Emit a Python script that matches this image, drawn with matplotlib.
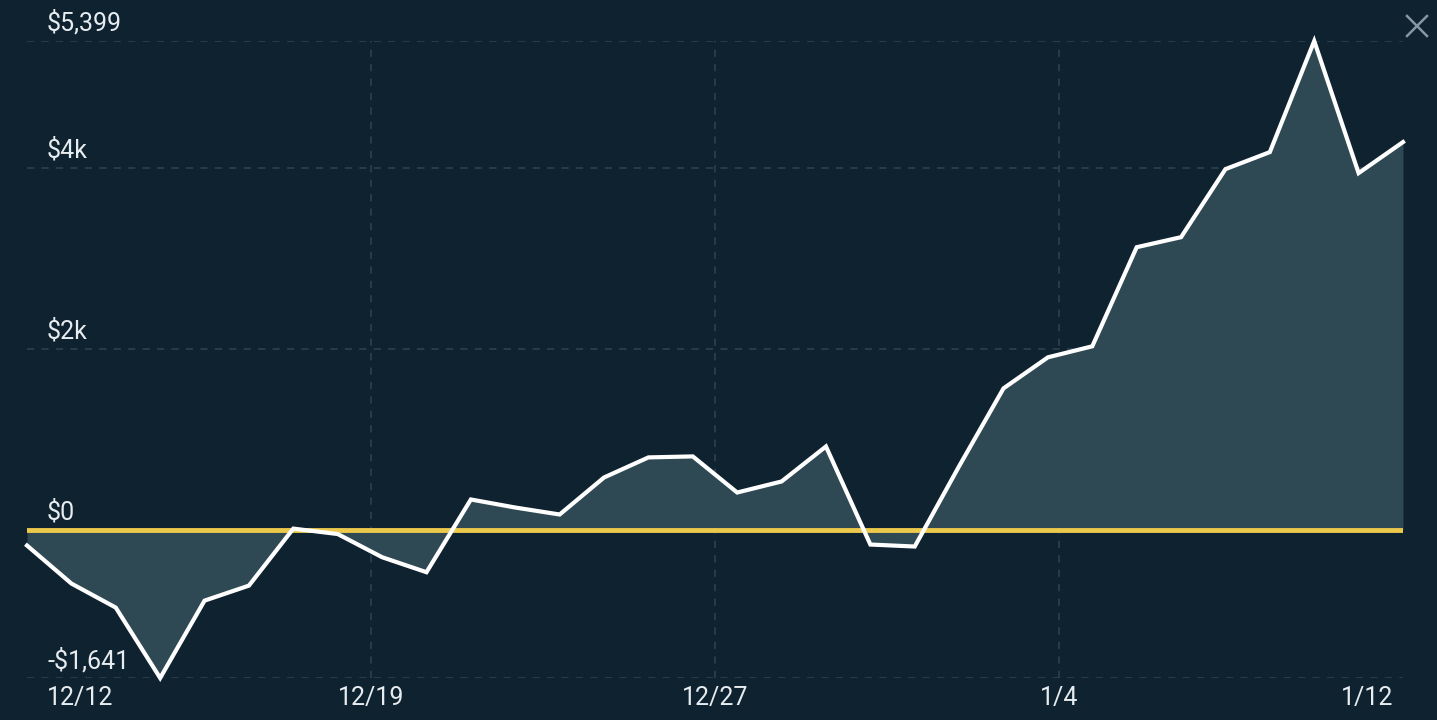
import matplotlib
matplotlib.use("Agg")
import matplotlib.pyplot as plt
from matplotlib.lines import Line2D
import numpy as np

# ---- data ----
values = [-177, -597, -863, -1641, -786, -620, 10, -50, -306, -472,
          332, 243, 166, 575, 797, 808, 409, 531, 918, -166,
          -188, 700, 1560, 1903, 2025, 3120, 3231, 3983, 4171, 5399,
          3939, 4282]
y_min_val = -1641
y_max_val = 5399
y_ticks = [-1641, 0, 2000, 4000, 5399]
y_tick_labels = ["-$1,641", "$0", "$2k", "$4k", "$5,399"]
x_tick_labels = ["12/12", "12/19", "12/27", "1/4", "1/12"]

# ---- style ----
BG = "#0f2230"
FILL = "#2e4953"
GRID = "#2b3e4b"
YELLOW = "#ecc94b"
TEXT = "#e6ecef"

plt.rcParams['font.family'] = ['Roboto', 'DejaVu Sans']

fig = plt.figure(figsize=(14.37, 7.2), dpi=100, facecolor=BG)
W, H = 1437, 720
left, right, top, bottom = 27, 1403, 41, 678
ax = fig.add_axes([left / W, (H - bottom) / H, (right - left) / W, (bottom - top) / H])
ax.set_facecolor(BG)

x = np.arange(len(values))
n = len(values) - 1
ax.set_xlim(0, n)
ax.set_ylim(y_min_val, y_max_val)

# grid
grid_x = [n * k / 4 for k in range(1, 4)]
for gx in grid_x:
    ax.axvline(gx, color=GRID, lw=1.3, ls=(0, (4, 4)), zorder=1)
for gy in y_ticks:
    if gy != 0:
        ax.axhline(gy, color=GRID, lw=1.3, ls=(0, (4, 4)), zorder=1)

vals = np.array(values, dtype=float)
ax.fill_between(x, vals, 0, color=FILL, lw=0, zorder=2, interpolate=True)
ax.axhline(0, color=YELLOW, lw=3.5, zorder=3)
ax.plot(x, vals, color="white", lw=3, zorder=4, clip_on=False, solid_joinstyle="miter")

for s in ax.spines.values():
    s.set_visible(False)
ax.set_xticks([])
ax.set_yticks([])

# y labels (above the gridlines, left)
trans_y = ax.get_yaxis_transform()
for v, lab in zip(y_ticks, y_tick_labels):
    ax.annotate(lab, xy=(0, v), xycoords=trans_y, xytext=(20, 5),
                textcoords="offset pixels", ha="left", va="bottom",
                color=TEXT, fontsize=18, annotation_clip=False)

# x labels
tick_pos = [0] + grid_x + [n]
has = ["left", "center", "center", "center", "right"]
offs = [20, 0, 0, 0, -10]
for p, lab, ha, o in zip(tick_pos, x_tick_labels, has, offs):
    ax.annotate(lab, xy=(p, y_min_val), xycoords="data", xytext=(o, -8),
                textcoords="offset pixels", ha=ha, va="top",
                color=TEXT, fontsize=18, annotation_clip=False)

# close icon
cx, cy, r = 1417 / W, (H - 26) / H, 10
fig.add_artist(Line2D([(1417 - r) / W, (1417 + r) / W], [(H - 26 + r) / H, (H - 26 - r) / H],
                      color="#8796a0", lw=1.8))
fig.add_artist(Line2D([(1417 - r) / W, (1417 + r) / W], [(H - 26 - r) / H, (H - 26 + r) / H],
                      color="#8796a0", lw=1.8))

fig.savefig("out.png", dpi=100, facecolor=BG)
